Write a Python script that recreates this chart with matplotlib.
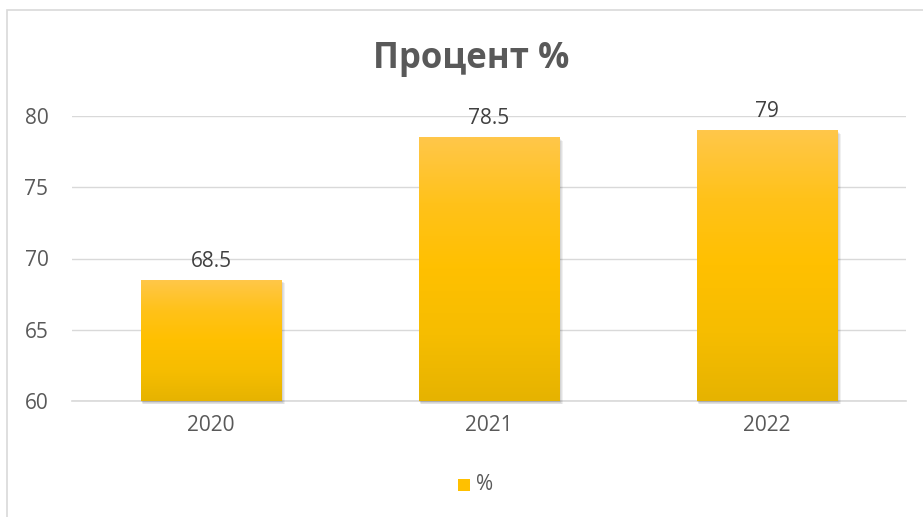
import numpy as np
import matplotlib
matplotlib.use("Agg")
import matplotlib.pyplot as plt
from matplotlib.patches import Rectangle
from matplotlib.colors import LinearSegmentedColormap

categories = ["2020", "2021", "2022"]
values = [68.5, 78.5, 79]
value_labels = ["68.5", "78.5", "79"]
yticks = [60, 65, 70, 75, 80]
series_name = "%"
title = "Процент %"

plt.rcParams['font.family'] = ['Open Sans', 'DejaVu Sans']

W, H = 923, 517
fig = plt.figure(figsize=(W/100, H/100), dpi=100)
# outer chart border
fig.patches.append(Rectangle((7/W, -0.1), 1.2, 1 - 10/H + 0.1, transform=fig.transFigure,
                             fill=False, edgecolor='#d9d9d9', linewidth=1.2))

ax = fig.add_axes([72/W, 1 - 401/H, 834/W, 285/H])
ax.set_xlim(-0.5, 2.5)
ax.set_ylim(60, 80)
for s in ax.spines.values():
    s.set_visible(False)
ax.set_yticks(yticks)
ax.grid(axis='y', color='#d9d9d9', linewidth=1.0)
ax.axhline(60, color='#d9d9d9', linewidth=1.2, clip_on=False, zorder=0.5)
ax.set_axisbelow(True)
ax.tick_params(axis='both', length=0, labelsize=15, colors='#595959')
ax.tick_params(axis='y', pad=17)
ax.tick_params(axis='x', pad=10)
ax.set_xticks(range(len(categories)))
ax.set_xticklabels(categories)

x = np.arange(len(categories))
width = 0.504
cmap = LinearSegmentedColormap.from_list('g', [(0, '#e6b300'), (0.25, '#f6bd00'), (0.5, '#ffc000'),
                                               (0.75, '#ffc21a'), (1, '#ffc74a')])
grad = np.linspace(0, 1, 256).reshape(-1, 1)

# soft shadows
for xi, v in zip(x, values):
    for k in range(4):
        dx = 0.0035 * (k + 1)
        dy = 0.06 * (k + 1)
        ax.add_patch(Rectangle((xi - width/2 + dx * 0.5, 60 - dy), width + dx * 0.5, v - 60,
                               facecolor='#000000', alpha=0.06, edgecolor='none', zorder=1.5,
                               clip_on=False))
bars = ax.bar(x, [v - 60 for v in values], width=width, bottom=60, color='#ffc000', zorder=2)
for b in bars:
    x0, y0 = b.get_x(), b.get_y()
    im = ax.imshow(grad, cmap=cmap, origin='lower', aspect='auto',
                   extent=[x0, x0 + b.get_width(), y0, y0 + b.get_height()], zorder=2.1)
    im.set_clip_path(b)
ax.set_xlim(-0.5, 2.5)
ax.set_ylim(60, 80)

for xi, v, lab in zip(x, values, value_labels):
    ax.annotate(lab, (xi, v), xytext=(0, 6), textcoords='offset points', ha='center',
                va='bottom', fontsize=15, color='#404040')

fig.text(471/W, 1 - 59/H, title, ha='center', va='center', fontsize=25,
         fontweight='bold', color='#595959')

# legend
fig.patches.append(Rectangle((458/W, 1 - 491/H), 12/W, 12/H, transform=fig.transFigure,
                             facecolor='#ffc000', edgecolor='none'))
fig.text(476/W, 1 - 484/H, series_name, ha='left', va='center', fontsize=15, color='#595959')

fig.savefig('out.png', dpi=100)
